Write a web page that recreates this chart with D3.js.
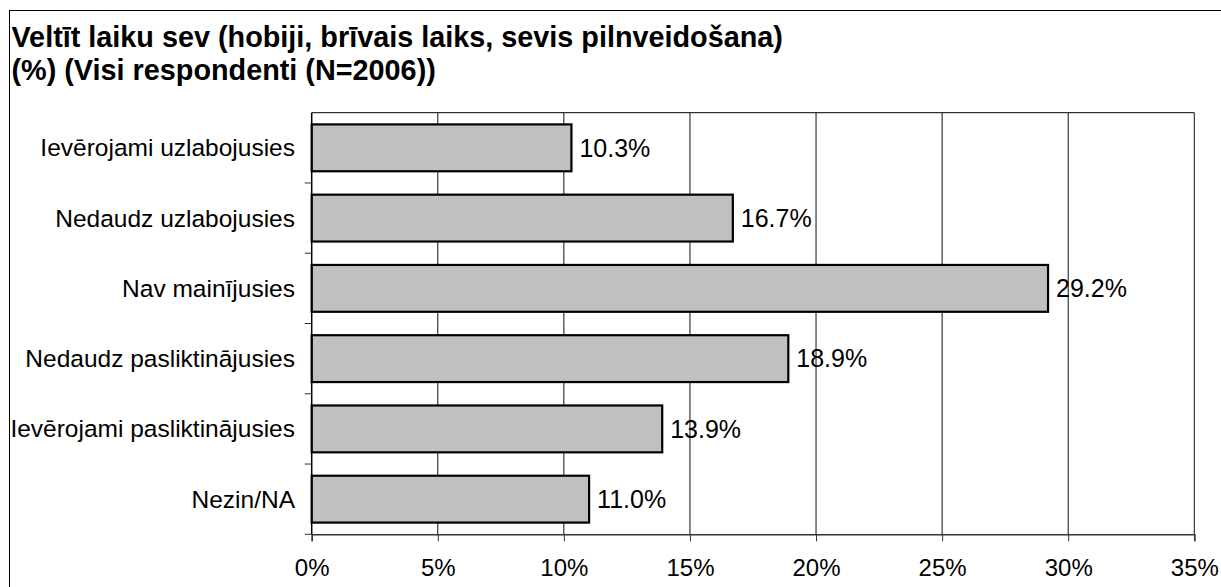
<!DOCTYPE html>
<html>
<head>
<meta charset="utf-8">
<script src="https://cdn.jsdelivr.net/npm/d3@7"></script>
<style>
  body { margin: 0; background: #fff; }
  svg text { font-family: "Liberation Sans", Arial, sans-serif; fill: #000; }
</style>
</head>
<body>
<div id="chart"></div>
<script>
// data
const categories = ["Ievērojami uzlabojusies", "Nedaudz uzlabojusies", "Nav mainījusies",
                    "Nedaudz pasliktinājusies", "Ievērojami pasliktinājusies", "Nezin/NA"];
const values = [10.3, 16.7, 29.2, 18.9, 13.9, 11.0];
const xTicks = [0, 5, 10, 15, 20, 25, 30, 35];
const titleLines = ["Veltīt laiku sev (hobiji, brīvais laiks, sevis pilnveidošana)",
                    "(%) (Visi respondenti (N=2006))"];

const W = 1221, H = 587;
const plot = {left: 311.7, right: 1194.3, top: 112.7, bottom: 534.3};

const svg = d3.select("#chart")
              .append("svg")
              .attr("width", W)
              .attr("height", H);

// outer frame (runs off the right and bottom edges)
svg.append("rect")
   .attr("x", 9.5).attr("y", 10.5)
   .attr("width", W + 20).attr("height", H + 20)
   .attr("fill", "none").attr("stroke", "#000").attr("stroke-width", 1);

// title
svg.append("g")
   .selectAll("text")
   .data(titleLines)
   .join("text")
     .attr("x", 11.5)
     .attr("y", (d, i) => 47 + i * 33)
     .style("font-size", "28.8px")
     .style("font-weight", "bold")
     .text(d => d);

const x = d3.scaleLinear()
            .domain([0, 35])
            .range([plot.left, plot.right]);

const y = d3.scaleBand()
            .domain(categories)
            .range([plot.top, plot.bottom])
            .paddingInner(1 / 3)
            .paddingOuter(1 / 6);

// vertical gridlines
svg.append("g")
   .selectAll("line")
   .data(xTicks.slice(1))
   .join("line")
     .attr("x1", d => x(d)).attr("x2", d => x(d))
     .attr("y1", plot.top).attr("y2", plot.bottom)
     .attr("stroke", "#111").attr("stroke-width", 1);

// top border of plot
svg.append("line")
   .attr("x1", plot.left).attr("x2", plot.right)
   .attr("y1", plot.top).attr("y2", plot.top)
   .attr("stroke", "#000").attr("stroke-width", 1);

// bars
svg.append("g")
   .selectAll("rect")
   .data(values)
   .join("rect")
     .attr("x", x(0))
     .attr("y", (d, i) => y(categories[i]))
     .attr("width", d => x(d) - x(0))
     .attr("height", y.bandwidth())
     .attr("fill", "#c0c0c0")
     .attr("stroke", "#000")
     .attr("stroke-width", 2.2);

// value labels
svg.append("g")
   .selectAll("text")
   .data(values)
   .join("text")
     .attr("x", d => x(d) + 8)
     .attr("y", (d, i) => y(categories[i]) + y.bandwidth() / 2)
     .attr("dy", "0.35em")
     .style("font-size", "25px")
     .text(d => d.toFixed(1) + "%");

// x axis
const xAxis = svg.append("g")
   .attr("transform", `translate(0, ${plot.bottom})`)
   .call(d3.axisBottom(x).tickValues(xTicks).tickFormat(d => d + "%").tickSizeOuter(0).tickSize(7).tickPadding(18));
xAxis.select(".domain").attr("stroke", "#333").attr("stroke-width", 1.5);
xAxis.selectAll(".tick line").attr("stroke", "#333");
xAxis.selectAll("text").style("font-size", "24px").attr("font-family", null);

// y axis: ticks sit on the band boundaries
const boundaries = d3.range(categories.length + 1).map(i => plot.top + i * y.step());
svg.append("line")
   .attr("x1", plot.left).attr("x2", plot.left)
   .attr("y1", plot.top).attr("y2", plot.bottom)
   .attr("stroke", "#000").attr("stroke-width", 1.5);
svg.append("g")
   .selectAll("line")
   .data(boundaries.slice(1))
   .join("line")
     .attr("x1", plot.left - 7).attr("x2", plot.left)
     .attr("y1", d => d).attr("y2", d => d)
     .attr("stroke", "#333");

svg.append("g")
   .selectAll("text")
   .data(categories)
   .join("text")
     .attr("x", 295)
     .attr("y", d => y(d) + y.bandwidth() / 2)
     .attr("dy", "0.35em")
     .attr("text-anchor", "end")
     .style("font-size", "24.5px")
     .text(d => d);
</script>
</body>
</html>
